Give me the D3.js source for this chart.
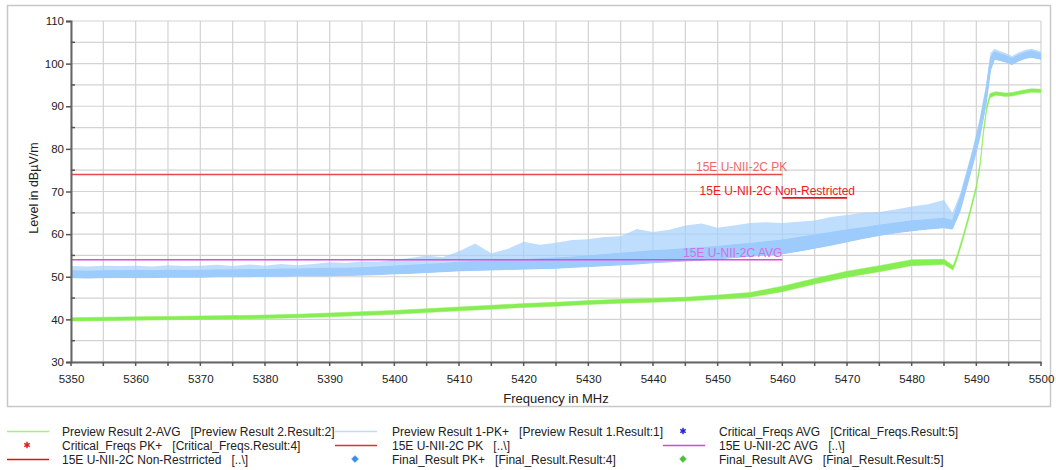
<!DOCTYPE html>
<html>
<head>
<meta charset="utf-8">
<script src="https://cdn.jsdelivr.net/npm/d3@7"></script>
<style>
body { margin: 0; background: #fff; }
svg text { font-family: "Liberation Sans", Arial, sans-serif; }
</style>
</head>
<body>
<svg id="chart"></svg>
<script>
// tick labels
var xTicks = [5350, 5360, 5370, 5380, 5390, 5400, 5410, 5420, 5430, 5440, 5450, 5460, 5470, 5480, 5490, 5500];
var yTicks = [30, 40, 50, 60, 70, 80, 90, 100, 110];

// Preview Result 1-PK+ : band (low / high of the dense trace, top of the spikes)
var pkFreq = [5350, 5352.5, 5355, 5357.5, 5360, 5362.5, 5365, 5367.5, 5370, 5372.5, 5375, 5377.5, 5380, 5382.5,
    5385, 5387.5, 5390, 5392.5, 5395, 5397.5, 5400, 5402.5, 5405, 5407.5, 5410, 5412.5, 5415, 5417.5, 5420,
    5422.5, 5425, 5427.5, 5430, 5432.5, 5435, 5437.5, 5440, 5442.5, 5445, 5447.5, 5450, 5452.5, 5455, 5457.5,
    5460, 5462.5, 5465, 5467.5, 5470, 5472.5, 5475, 5477.5, 5480, 5482.5, 5485, 5486.3, 5487.5, 5488.5, 5489.5,
    5490.5, 5491.5, 5492.2, 5492.8, 5493.5, 5494.5, 5495.5, 5496.5, 5497.5, 5498.5, 5499.5, 5500];
var pkLow = [49.8, 49.7, 49.8, 49.8, 49.8, 49.8, 49.9, 49.9, 49.9, 50.0, 50.0, 50.0, 50.1, 50.1,
    50.2, 50.2, 50.2, 50.3, 50.4, 50.5, 50.7, 50.8, 51.0, 51.2, 51.4, 51.5, 51.6, 51.7, 51.8,
    51.9, 52.0, 52.2, 52.4, 52.6, 52.8, 53.0, 53.3, 53.5, 53.7, 53.9, 54.2, 54.5, 54.8, 55.1,
    55.4, 56.0, 56.7, 57.4, 58.2, 59.0, 59.7, 60.3, 60.8, 61.2, 61.5, 61.2, 65.5, 71.0, 76.5,
    82.5, 90.5, 98.5, 101.0, 100.8, 100.4, 99.8, 100.6, 101.2, 101.5, 101.2, 101.0];
var pkHigh = [51.4, 51.3, 51.4, 51.4, 51.5, 51.4, 51.5, 51.5, 51.5, 51.6, 51.6, 51.7, 51.7, 51.8,
    51.8, 51.9, 52.0, 52.0, 52.1, 52.3, 52.5, 52.7, 52.9, 53.1, 53.4, 53.6, 53.7, 53.9, 54.0,
    54.2, 54.4, 54.6, 54.9, 55.2, 55.5, 55.8, 56.1, 56.3, 56.6, 56.8, 57.1, 57.5, 57.8, 58.2,
    58.6, 59.2, 59.8, 60.4, 61.0, 61.5, 62.1, 62.6, 63.1, 63.4, 63.7, 63.2, 68.5, 74.0, 79.5,
    86.0, 94.0, 101.5, 102.8, 102.4, 101.9, 101.2, 102.0, 102.6, 103.0, 102.6, 102.3];
var pkPeak = [52.5, 52.4, 52.6, 52.5, 52.6, 52.4, 52.7, 52.5, 52.6, 52.8, 52.5, 52.9, 52.6, 53.0,
    52.7, 53.0, 53.4, 53.2, 53.6, 53.5, 54.0, 54.4, 55.0, 54.6, 56.0, 57.8, 55.5, 56.5, 58.2,
    57.5, 58.0, 58.6, 58.8, 59.3, 59.5, 61.2, 60.5, 61.0, 62.0, 62.5, 61.5, 62.0, 62.6, 62.8,
    62.6, 62.9, 63.2, 64.0, 64.5, 65.0, 65.2, 65.8, 66.5, 67.0, 68.0, 65.0, 69.5, 75.0, 80.5,
    87.0, 95.0, 102.5, 103.5, 103.0, 102.5, 101.8, 102.6, 103.2, 103.5, 103.1, 102.8];

// Preview Result 2-AVG
var avgFreq = [5350, 5355, 5360, 5365, 5370, 5375, 5380, 5385, 5390, 5395, 5400, 5405, 5410, 5415, 5420,
    5425, 5430, 5435, 5440, 5445, 5450, 5455, 5460, 5465, 5470, 5475, 5480, 5485, 5486.4, 5487, 5488,
    5489, 5490, 5490.6, 5491.1, 5491.6, 5492.1, 5493, 5494.5, 5495.5, 5497, 5498.5, 5500];
var avgLow = [39.6, 39.7, 39.8, 39.9, 40.0, 40.1, 40.2, 40.4, 40.6, 40.9, 41.2, 41.6, 42.0, 42.4, 42.8,
    43.1, 43.5, 43.8, 44.0, 44.3, 44.7, 45.2, 46.5, 48.3, 49.9, 51.2, 52.6, 52.9, 51.6, 54.0, 59.0,
    64.5, 70.5, 76.0, 83.5, 89.0, 92.0, 92.6, 92.3, 92.4, 92.9, 93.3, 93.2];
var avgHigh = [40.4, 40.5, 40.6, 40.7, 40.8, 40.9, 41.0, 41.2, 41.5, 41.8, 42.1, 42.5, 42.9, 43.3, 43.7,
    44.0, 44.4, 44.7, 44.9, 45.2, 45.7, 46.3, 47.8, 49.6, 51.3, 52.6, 54.0, 54.1, 52.6, 55.0, 60.0,
    65.5, 71.5, 77.0, 84.5, 90.0, 93.0, 93.4, 93.1, 93.2, 93.7, 94.1, 94.0];

// limit lines
var limitNames = ["15E U-NII-2C PK", "15E U-NII-2C Non-Restricted", "15E U-NII-2C AVG"];
var limitLevels = [74, 68.5, 54];
var limitStart = [5350, 5460, 5350];
var limitEnd = [5460, 5470, 5460];

// legend, row by row
var legendNames = [
    "Preview Result 2-AVG   [Preview Result 2.Result:2]",
    "Preview Result 1-PK+   [Preview Result 1.Result:1]",
    "Critical_Freqs AVG   [Critical_Freqs.Result:5]",
    "Critical_Freqs PK+   [Critical_Freqs.Result:4]",
    "15E U-NII-2C PK   [..\\]",
    "15E U-NII-2C AVG   [..\\]",
    "15E U-NII-2C Non-Restrricted   [..\\]",
    "Final_Result PK+   [Final_Result.Result:4]",
    "Final_Result AVG   [Final_Result.Result:5]"
];

var W = 1056, H = 470;
var margin = { top: 21, right: 15, bottom: 108, left: 71 };
var width = W - margin.left - margin.right;
var height = H - margin.top - margin.bottom;

var svg = d3.select("#chart").attr("width", W).attr("height", H);

// outer frame
svg.append("rect")
    .attr("x", 7.5).attr("y", 5.5)
    .attr("width", 1043).attr("height", 401)
    .attr("fill", "none")
    .attr("stroke", "#c8c8c8")
    .attr("stroke-width", 1.5);

var x = d3.scaleLinear().domain([5350, 5500]).range([0, width]);
var y = d3.scaleLinear().domain([30, 110]).range([height, 0]);

var g = svg.append("g").attr("transform", "translate(" + margin.left + "," + margin.top + ")");

// grid every 5
var xGrid = d3.range(5350, 5501, 5);
var yGrid = d3.range(30, 111, 5);
g.append("g").selectAll("line").data(xGrid).enter().append("line")
    .attr("x1", function(d) { return x(d); }).attr("x2", function(d) { return x(d); })
    .attr("y1", 0).attr("y2", height)
    .attr("stroke", "#d3d3d3").attr("stroke-width", 1.2);
g.append("g").selectAll("line").data(yGrid).enter().append("line")
    .attr("y1", function(d) { return y(d); }).attr("y2", function(d) { return y(d); })
    .attr("x1", 0).attr("x2", width)
    .attr("stroke", "#d3d3d3").attr("stroke-width", 1.2);

g.append("clipPath").attr("id", "clip")
    .append("rect").attr("width", width).attr("height", height);

var plot = g.append("g").attr("clip-path", "url(#clip)");

var pkData = pkFreq.map(function(f, i) { return { f: f, lo: pkLow[i], hi: pkHigh[i], pk: pkPeak[i] }; });
var avgData = avgFreq.map(function(f, i) { return { f: f, lo: avgLow[i], hi: avgHigh[i] }; });

// PK trace: spikes as a paler band, dense part solid
plot.append("path").datum(pkData)
    .attr("fill", "#a4d0fc").attr("opacity", 0.7)
    .attr("d", d3.area()
        .x(function(d) { return x(d.f); })
        .y0(function(d) { return y(d.lo); })
        .y1(function(d) { return y(d.pk); }));
plot.append("path").datum(pkData)
    .attr("fill", "#9ccbfc")
    .attr("stroke", "#9ccbfc").attr("stroke-width", 1)
    .attr("d", d3.area()
        .x(function(d) { return x(d.f); })
        .y0(function(d) { return y(d.lo); })
        .y1(function(d) { return y(d.hi); }));

// AVG trace
plot.append("path").datum(avgData)
    .attr("fill", "#86ee52")
    .attr("stroke", "#86ee52").attr("stroke-width", 0.5)
    .attr("d", d3.area()
        .x(function(d) { return x(d.f); })
        .y0(function(d) { return y(d.lo); })
        .y1(function(d) { return y(d.hi); }));

// limit lines and labels
var limitColors = ["#e84848", "#e01818", "#e048e0"];
var labelColors = ["#f06868", "#e81c1c", "#d46ee8"];
var labelDx = [5, 8, 0];
limitNames.forEach(function(name, i) {
    g.append("line")
        .attr("x1", x(limitStart[i])).attr("x2", x(limitEnd[i]))
        .attr("y1", y(limitLevels[i])).attr("y2", y(limitLevels[i]))
        .attr("stroke", limitColors[i]).attr("stroke-width", 1.6);
    g.append("text")
        .attr("x", x(limitEnd[i]) + labelDx[i])
        .attr("y", y(limitLevels[i]) - 3)
        .attr("text-anchor", "end")
        .attr("font-size", "12px")
        .attr("fill", labelColors[i])
        .text(name);
});

// axes
var xAxis = g.append("g").attr("transform", "translate(0," + height + ")")
    .call(d3.axisBottom(x).tickValues(xTicks).tickSize(0).tickPadding(13).tickFormat(d3.format("d")));
var yAxis = g.append("g")
    .call(d3.axisLeft(y).tickValues(yTicks).tickSize(5).tickPadding(2));

[xAxis, yAxis].forEach(function(a) {
    a.select(".domain").attr("stroke", "#666").attr("stroke-width", 2);
    a.selectAll(".tick line").attr("stroke", "#555").attr("stroke-width", 1.5);
    a.selectAll("text").attr("font-size", "11.5px").attr("fill", "#222")
        .style("font-family", "'Liberation Sans', Arial, sans-serif");
});

// small ticks
g.append("g").selectAll("line").data(xGrid).enter().append("line")
    .attr("x1", function(d) { return x(d); }).attr("x2", function(d) { return x(d); })
    .attr("y1", height).attr("y2", height + 4)
    .attr("stroke", "#555").attr("stroke-width", 1.5);
g.append("g").selectAll("line").data(d3.range(35, 110, 10)).enter().append("line")
    .attr("y1", function(d) { return y(d); }).attr("y2", function(d) { return y(d); })
    .attr("x1", 0).attr("x2", 4)
    .attr("stroke", "#555").attr("stroke-width", 1.5);

// axis titles
svg.append("text")
    .attr("x", margin.left + width / 2).attr("y", 403)
    .attr("text-anchor", "middle")
    .attr("font-size", "13px").attr("fill", "#222")
    .text("Frequency in MHz");
svg.append("text")
    .attr("transform", "translate(38,188) rotate(-90)")
    .attr("text-anchor", "middle")
    .attr("font-size", "12.5px").attr("fill", "#222")
    .text("Level in dBµV/m");

// legend
var legendKinds = ["line", "line", "star", "star", "line", "line", "line", "diamond", "diamond"];
var legendColors = ["#a6f07a", "#bcdcff", "#2424d8", "#e02020", "#e03030", "#e040e0", "#e01010", "#3a8ee8", "#4cc03c"];
var colSample = [7, 335, 663];
var colText = [62, 392, 719];
var rowY = [432, 446, 460];

var legend = svg.append("g");
legendNames.forEach(function(name, i) {
    var col = i % 3, row = Math.floor(i / 3);
    var cy = rowY[row];
    var x0 = colSample[col];
    if (legendKinds[i] === "line") {
        legend.append("line")
            .attr("x1", x0).attr("x2", x0 + 42)
            .attr("y1", cy - 0.5).attr("y2", cy - 0.5)
            .attr("stroke", legendColors[i]).attr("stroke-width", 1.6);
    } else {
        legend.append("path")
            .attr("transform", "translate(" + (x0 + 20) + "," + (cy - 1) + ")")
            .attr("d", d3.symbol().type(legendKinds[i] === "star" ? d3.symbolAsterisk : d3.symbolDiamond2).size(legendKinds[i] === "star" ? 28 : 30))
            .attr("fill", legendColors[i])
            .attr("stroke", legendColors[i]).attr("stroke-width", legendKinds[i] === "star" ? 1.5 : 0.5);
    }
    legend.append("text")
        .attr("x", colText[col]).attr("y", cy + 4)
        .attr("font-size", "12px").attr("fill", "#222")
        .style("white-space", "pre")
        .text(name);
});
</script>
</body>
</html>
